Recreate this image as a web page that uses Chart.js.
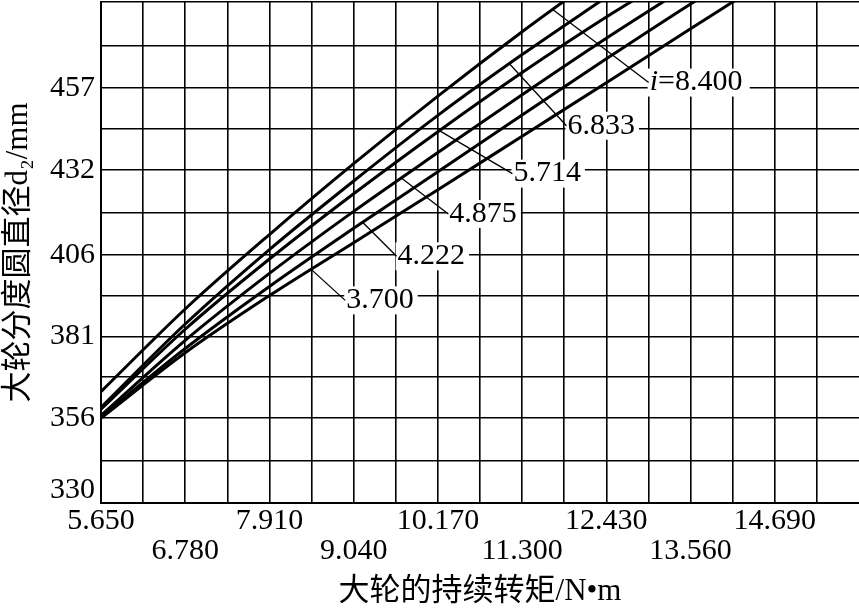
<!DOCTYPE html>
<html>
<head>
<meta charset="utf-8">
<script src="https://cdn.jsdelivr.net/npm/chart.js@4.4.0/dist/chart.umd.min.js"></script>
<style>
  html, body { margin: 0; padding: 0; background: #fff; }
  #wrap { width: 859px; height: 611px; }
</style>
</head>
<body>
<div id="wrap"><canvas id="gearChart" width="859" height="611"></canvas></div>
<script>
// 大轮的持续转矩 (x) read points
const torque = [5.65, 6.78, 7.91, 9.04, 10.17, 11.30, 12.43, 13.56, 14.69];

// 大轮分度圆直径 d2 for each ratio (null = already off the top)
const d2_i8400 = [364.1, 389.4, 412.2, 433.9, 454.6, 474.3, 493.0, null, null];
const d2_i6833 = [359.3, 384.8, 407.6, 428.6, 448.7, 467.3, 484.9, null, null];
const d2_i5714 = [358.7, 383.2, 404.7, 424.7, 443.7, 461.8, 478.8, 494.5, null];
const d2_i4875 = [356.8, 379.8, 400.3, 419.3, 437.3, 455.0, 472.3, 488.8, null];
const d2_i4222 = [356.3, 377.3, 396.3, 414.1, 431.4, 448.8, 466.0, 482.8, 499.0];
const d2_i3700 = [356.0, 376.0, 393.5, 409.7, 425.9, 442.3, 458.7, 475.2, 491.6];

const ratioNames = ["8.400", "6.833", "5.714", "4.875", "4.222", "3.700"];
const seriesList = [d2_i8400, d2_i6833, d2_i5714, d2_i4875, d2_i4222, d2_i3700];
// torque where each leader line touches its curve
const leaderTorque = [11.71, 11.13, 10.19, 9.68, 9.16, 8.47];

// tick labels
const xTickLabels = ["5.650", "6.780", "7.910", "9.040", "10.170", "11.300", "12.430", "13.560", "14.690"];
const yTickLabels = ["330", "356", "381", "406", "432", "457"];
const yLabelAt = [334, 356, 381, 406, 432, 457];   // 330 is printed a little above the bottom line
const yGridAt = [330, 343, 356, 368.5, 381, 393.5, 406, 419, 432, 444.5, 457, 470, 483.4];
const xMin = 5.65, xStep = 0.565, xMax = 15.82;

const serif = "'Liberation Serif', 'Noto Sans CJK SC', serif";

// where the ratio texts sit relative to the leader's start (px)
const labelShift = [[97, 73], [58, 62], [74, 43], [48, 36], [35, 34], [35, 31]];

const ratioLabels = {
  id: "ratioLabels",
  afterDatasetsDraw(chart) {
    const ctx = chart.ctx;
    const xs = chart.scales.x;
    ctx.save();
    seriesList.forEach((s, k) => {
      const pts = chart.getDatasetMeta(k).data;
      const px = xs.getPixelForValue(leaderTorque[k]);
      let py = null;
      for (let j = 0; j < pts.length - 1; j++) {
        if (pts[j].x <= px && pts[j + 1].x >= px) {
          const t = (px - pts[j].x) / (pts[j + 1].x - pts[j].x);
          py = pts[j].y + t * (pts[j + 1].y - pts[j].y);
          break;
        }
      }
      if (py === null) return;
      const tx = px + labelShift[k][0];
      const ty = py + labelShift[k][1];

      ctx.font = "30px " + serif;
      let w = ctx.measureText(ratioNames[k]).width;
      let pre = "";
      if (k === 0) {
        ctx.font = "italic 30px " + serif;
        pre = "i";
        w += ctx.measureText("i=").width;
      }
      ctx.fillStyle = "#fff";
      ctx.fillRect(tx - 2, ty - 14, w + 6, 28);

      ctx.strokeStyle = "#000";
      ctx.lineWidth = 1.3;
      ctx.beginPath();
      ctx.moveTo(px, py);
      ctx.lineTo(tx - 1, ty);
      ctx.stroke();

      ctx.fillStyle = "#000";
      ctx.textBaseline = "middle";
      ctx.textAlign = "left";
      let cx = tx;
      if (pre) {
        ctx.font = "italic 30px " + serif;
        ctx.fillText("i", cx, ty);
        cx += ctx.measureText("i").width;
        ctx.font = "30px " + serif;
        ctx.fillText("=", cx, ty);
        cx += ctx.measureText("=").width;
      }
      ctx.font = "30px " + serif;
      ctx.fillText(ratioNames[k], cx, ty);
    });
    ctx.restore();
  }
};

const datasets = seriesList.map((s, k) => ({
  label: "i=" + ratioNames[k],
  data: torque.map((t, j) => ({ x: t, y: s[j] })).filter(p => p.y !== null),
  borderColor: "#000",
  borderWidth: 3,
  pointRadius: 0,
  cubicInterpolationMode: "monotone",
  fill: false,
  clip: 0
}));

new Chart(document.getElementById("gearChart"), {
  type: "line",
  data: { datasets },
  options: {
    responsive: false,
    animation: false,
    layout: { padding: { top: 2, right: 0, bottom: 0, left: 0 } },
    plugins: { legend: { display: false }, tooltip: { enabled: false } },
    scales: {
      x: {
        type: "linear",
        min: xMin,
        max: xMax,
        afterBuildTicks(scale) {
          const t = [];
          for (let k = 0; k <= 17; k++) t.push({ value: xMin + k * xStep });
          scale.ticks = t;
        },
        afterFit(scale) {
          scale.height = 108;
          scale.paddingLeft = 0;
          scale.paddingRight = 0;
        },
        grid: { color: "#000", lineWidth: 1.6, drawTicks: false },
        border: { color: "#000", width: 2 },
        ticks: {
          autoSkip: false,
          maxRotation: 0,
          padding: 3,
          color: "#000",
          font: { family: serif, size: 30, lineHeight: 1.0 },
          callback(v, idx) {
            if (idx % 2 !== 0) return "";
            const n = idx / 2;
            const txt = xTickLabels[n];
            if (txt === undefined) return "";
            return n % 2 === 0 ? [txt, ""] : ["", txt];
          }
        },
        title: {
          display: true,
          text: "大轮的持续转矩/N•m",
          color: "#000",
          font: { family: serif, size: 31, lineHeight: 1.0 },
          padding: { top: 0, bottom: 4 }
        }
      },
      y: {
        type: "linear",
        min: 330,
        max: 483.4,
        afterBuildTicks(scale) {
          const vals = yGridAt.concat([334]).sort((a, b) => a - b);
          scale.ticks = vals.map(v => ({ value: v }));
        },
        afterFit(scale) {
          scale.width = 101;
          scale.paddingTop = 0;
          scale.paddingBottom = 0;
        },
        grid: {
          lineWidth: 1.6,
          drawTicks: false,
          color: (c) => (c.tick && c.tick.value === 334 ? "rgba(0,0,0,0)" : "#000")
        },
        border: { color: "#000", width: 2 },
        ticks: {
          autoSkip: false,
          padding: 6,
          color: "#000",
          font: { family: serif, size: 30 },
          callback(v) {
            const i = yLabelAt.indexOf(v);
            return i >= 0 ? yTickLabels[i] : "";
          }
        },
        title: {
          display: true,
          text: "大轮分度圆直径d₂/mm",
          color: "#000",
          font: { family: serif, size: 31, lineHeight: 1.0 },
          padding: { top: 3, bottom: 0 }
        }
      }
    }
  },
  plugins: [ratioLabels]
});
</script>
</body>
</html>
